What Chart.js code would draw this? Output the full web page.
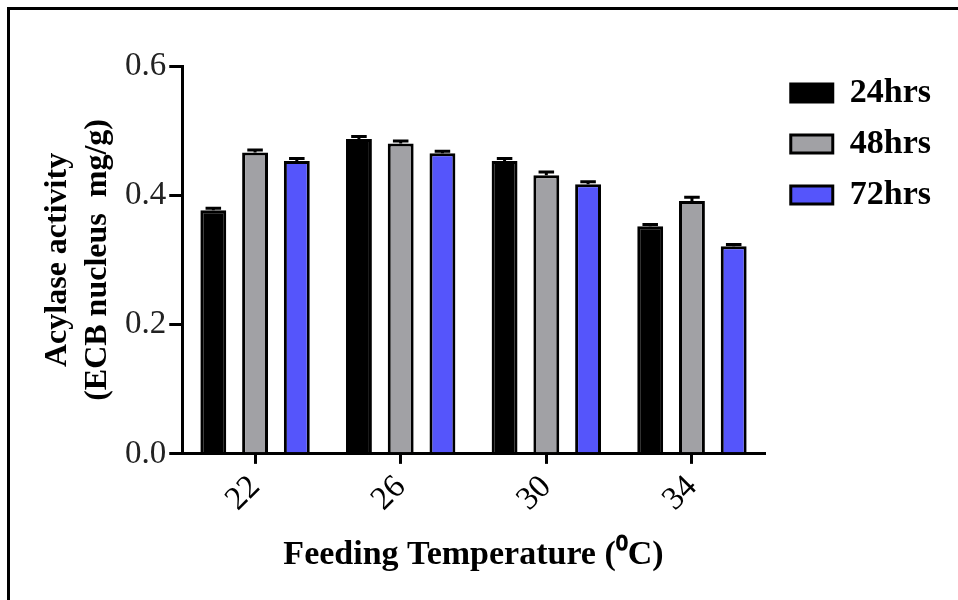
<!DOCTYPE html>
<html>
<head>
<meta charset="utf-8">
<script src="https://cdn.jsdelivr.net/npm/chart.js@4.4.1/dist/chart.umd.min.js"></script>
<style>
  html, body { margin: 0; padding: 0; background: #fff; }
  #wrap { position: relative; width: 958px; height: 600px; }
  #frameTop { position: absolute; left: 7px; top: 7px; width: 951px; height: 3px; background: #000; }
  #frameLeft { position: absolute; left: 7px; top: 7px; width: 3px; height: 593px; background: #000; }
</style>
</head>
<body>
<div id="wrap">
  <canvas id="myChart" width="958" height="600"></canvas>
  <div id="frameTop"></div>
  <div id="frameLeft"></div>
</div>
<script>
// feeding temperatures on the x axis
var temps = ['22', '26', '30', '34'];
var seriesNames = ['24hrs', '48hrs', '72hrs'];

// acylase activity
var hrs24 = [0.377, 0.487, 0.453, 0.352];
var hrs48 = [0.466, 0.480, 0.431, 0.391];
var hrs72 = [0.453, 0.465, 0.417, 0.321];

// small error bars (upper side only)
var err24 = [0.003, 0.004, 0.004, 0.003];
var err48 = [0.004, 0.004, 0.005, 0.006];
var err72 = [0.004, 0.003, 0.004, 0.003];

var yTicks = [0.0, 0.2, 0.4, 0.6];

var serif = "'Liberation Serif', 'Times New Roman', serif";
Chart.defaults.font.family = serif;
Chart.defaults.color = '#000';

// draws the error caps above each bar
var errorBars = {
  id: 'errorBars',
  afterDatasetsDraw: function(chart) {
    var ctx = chart.ctx;
    var yScale = chart.scales.y;
    chart.data.datasets.forEach(function(ds, i) {
      var meta = chart.getDatasetMeta(i);
      meta.data.forEach(function(bar, j) {
        var top = yScale.getPixelForValue(ds.data[j] + ds.errors[j]);
        var half = bar.width * 0.3;
        ctx.save();
        ctx.strokeStyle = '#000';
        ctx.lineWidth = 3;
        ctx.beginPath();
        ctx.moveTo(bar.x, bar.y);
        ctx.lineTo(bar.x, top);
        ctx.moveTo(bar.x - half, top);
        ctx.lineTo(bar.x + half, top);
        ctx.stroke();
        ctx.restore();
      });
    });
  }
};

// nudge the legend a little right and up, like the original
var legendNudge = {
  id: 'legendNudge',
  afterLayout: function(chart) {
    var lg = chart.legend;
    if (!lg) return;
    lg.left += 9;
    lg.right += 9;
    lg.top -= 7;
    lg.bottom -= 7;
  }
};

var ctx = document.getElementById('myChart');
var myChart = new Chart(ctx, {
  type: 'bar',
  data: {
    labels: temps,
    datasets: [
      { label: seriesNames[0], data: hrs24, errors: err24, backgroundColor: '#000000' },
      { label: seriesNames[1], data: hrs48, errors: err48, backgroundColor: '#a1a1a5' },
      { label: seriesNames[2], data: hrs72, errors: err72, backgroundColor: '#5555fb' }
    ]
  },
  options: {
    responsive: false,
    animation: false,
    datasets: {
      bar: {
        borderColor: '#000',
        borderWidth: 3,
        categoryPercentage: 0.86,
        barPercentage: 0.62
      }
    },
    layout: { padding: { left: 38, right: 26, top: 66, bottom: 24 } },
    plugins: {
      tooltip: { enabled: false },
      legend: {
        position: 'right',
        align: 'start',
        labels: {
          boxWidth: 42,
          boxHeight: 18,
          padding: 17,
          font: { size: 34, weight: 'bold' },
          color: '#000'
        }
      }
    },
    scales: {
      x: {
        grid: {
          display: true,
          offset: false,
          drawOnChartArea: false,
          drawTicks: true,
          tickLength: 10,
          color: '#000',
          lineWidth: 3
        },
        border: { display: true, color: '#000', width: 3 },
        ticks: {
          minRotation: 45,
          maxRotation: 45,
          padding: 4,
          font: { size: 33 },
          color: '#000'
        },
        title: {
          display: true,
          text: 'Feeding Temperature (\u2070C)',
          font: { size: 34, weight: 'bold' },
          color: '#000',
          padding: { top: 12, bottom: 0 }
        }
      },
      y: {
        min: 0,
        max: 0.6,
        afterBuildTicks: function(axis) {
          axis.ticks = yTicks.map(function(v) { return { value: v }; });
        },
        grid: {
          display: true,
          drawOnChartArea: false,
          drawTicks: true,
          tickLength: 13,
          color: '#000',
          lineWidth: 3
        },
        border: { display: true, color: '#000', width: 3 },
        ticks: {
          padding: 3,
          font: { size: 33 },
          color: '#222',
          callback: function(v) { return Number(v).toFixed(1); }
        },
        title: {
          display: true,
          text: ['Acylase activity', '(ECB nucleus  mg/g)'],
          font: { size: 32, weight: 'bold', lineHeight: 1.25 },
          color: '#000',
          padding: { top: 0, bottom: 4 }
        }
      }
    }
  },
  plugins: [errorBars, legendNudge]
});
</script>
</body>
</html>
